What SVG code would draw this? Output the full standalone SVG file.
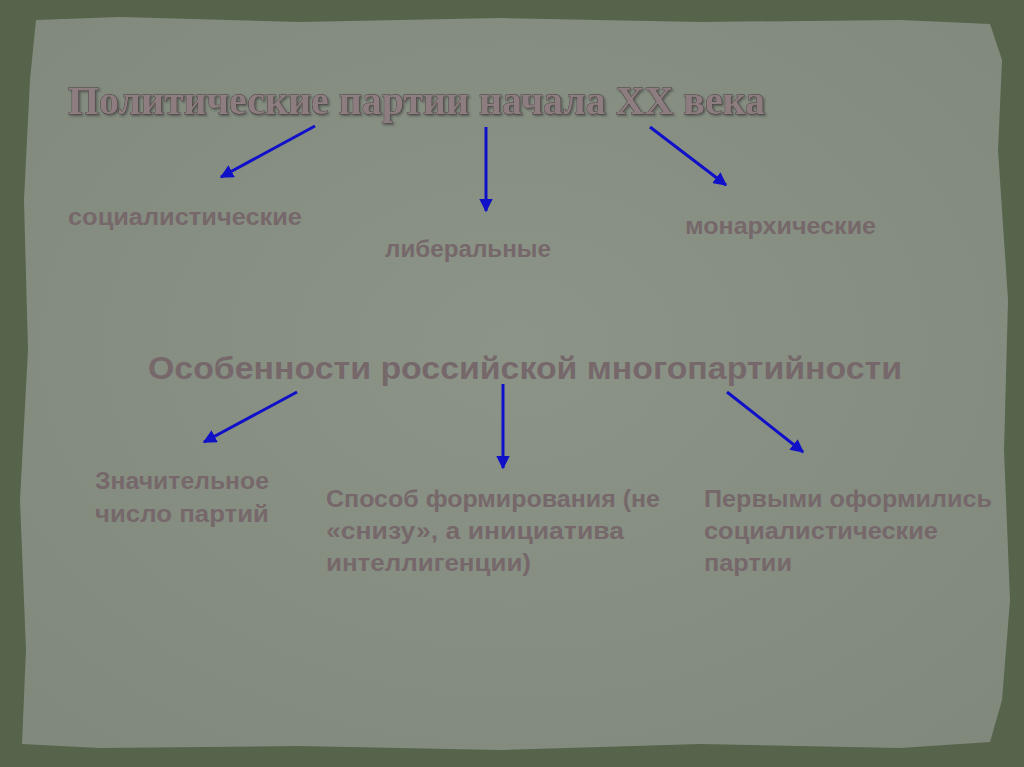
<svg xmlns="http://www.w3.org/2000/svg" width="1024" height="767" viewBox="0 0 1024 767">
<style>
.t{font-family:"Liberation Sans","DejaVu Sans",sans-serif;font-weight:bold;fill:#76686a}
.title{font-family:"Liberation Serif","DejaVu Serif",serif;font-weight:bold;fill:#8e7d80;stroke:#4a4040;stroke-width:0.8;paint-order:stroke}
.a{stroke:#1010c8;stroke-width:3;fill:none;marker-end:url(#ah)}
</style>
<defs>
<marker id="ah" viewBox="0 0 10 10" refX="9" refY="5" markerWidth="4.5" markerHeight="4.5" orient="auto" markerUnits="strokeWidth">
<path d="M0,0 L10,5 L0,10 z" fill="#1010c8"/>
</marker>
<radialGradient id="pg" cx="0.5" cy="0.45" r="0.7">
<stop offset="0" stop-color="#8c9488"/>
<stop offset="1" stop-color="#81897d"/>
</radialGradient>
<filter id="sh"><feDropShadow dx="1.5" dy="1.5" stdDeviation="1" flood-color="#303030" flood-opacity="0.6"/></filter>
</defs>
<rect width="1024" height="767" fill="#56644c"/>
<path id="paper" d="M36,20 L120,17 L300,22 L500,18 L700,22 L900,20 L990,24 L1002,60 L998,150 L1008,300 L1004,450 L1010,600 L1002,700 L990,742 L900,748 L700,744 L500,750 L300,746 L100,748 L22,744 L26,650 L20,500 L28,350 L24,200 L30,80 Z" fill="url(#pg)"/>
<g id="title"><text class="title" x="68" y="114" font-size="40" textLength="697" lengthAdjust="spacingAndGlyphs" filter="url(#sh)">Политические партии начала XX века</text></g>
<g id="n-soc"><text class="t" x="68" y="225" font-size="23" textLength="234" lengthAdjust="spacingAndGlyphs">социалистические</text></g>
<g id="n-lib"><text class="t" x="385" y="257" font-size="23" textLength="166" lengthAdjust="spacingAndGlyphs">либеральные</text></g>
<g id="n-mon"><text class="t" x="685" y="234" font-size="23" textLength="191" lengthAdjust="spacingAndGlyphs">монархические</text></g>
<g id="n-osob"><text class="t" x="148" y="379" font-size="32" textLength="754" lengthAdjust="spacingAndGlyphs">Особенности российской многопартийности</text></g>
<g id="n-znach"><text class="t" font-size="23"><tspan x="95" y="489" textLength="174" lengthAdjust="spacingAndGlyphs">Значительное</tspan><tspan x="95" y="522" textLength="174" lengthAdjust="spacingAndGlyphs">число партий</tspan></text></g>
<g id="n-sposob"><text class="t" font-size="23"><tspan x="326" y="507" textLength="334" lengthAdjust="spacingAndGlyphs">Способ формирования (не</tspan><tspan x="326" y="539" textLength="298" lengthAdjust="spacingAndGlyphs">«снизу», а инициатива</tspan><tspan x="326" y="571" textLength="205" lengthAdjust="spacingAndGlyphs">интеллигенции)</tspan></text></g>
<g id="n-perv"><text class="t" font-size="23"><tspan x="704" y="507" textLength="288" lengthAdjust="spacingAndGlyphs">Первыми оформились</tspan><tspan x="704" y="539" textLength="234" lengthAdjust="spacingAndGlyphs">социалистические</tspan><tspan x="704" y="571" textLength="88" lengthAdjust="spacingAndGlyphs">партии</tspan></text></g>
<g id="connectors">
<line class="a" x1="315" y1="126" x2="221" y2="177"/>
<line class="a" x1="486" y1="127" x2="486" y2="211"/>
<line class="a" x1="650" y1="127" x2="726" y2="185"/>
<line class="a" x1="297" y1="392" x2="204" y2="442"/>
<line class="a" x1="503" y1="384" x2="503" y2="468"/>
<line class="a" x1="727" y1="392" x2="803" y2="452"/>
</g>
</svg>
